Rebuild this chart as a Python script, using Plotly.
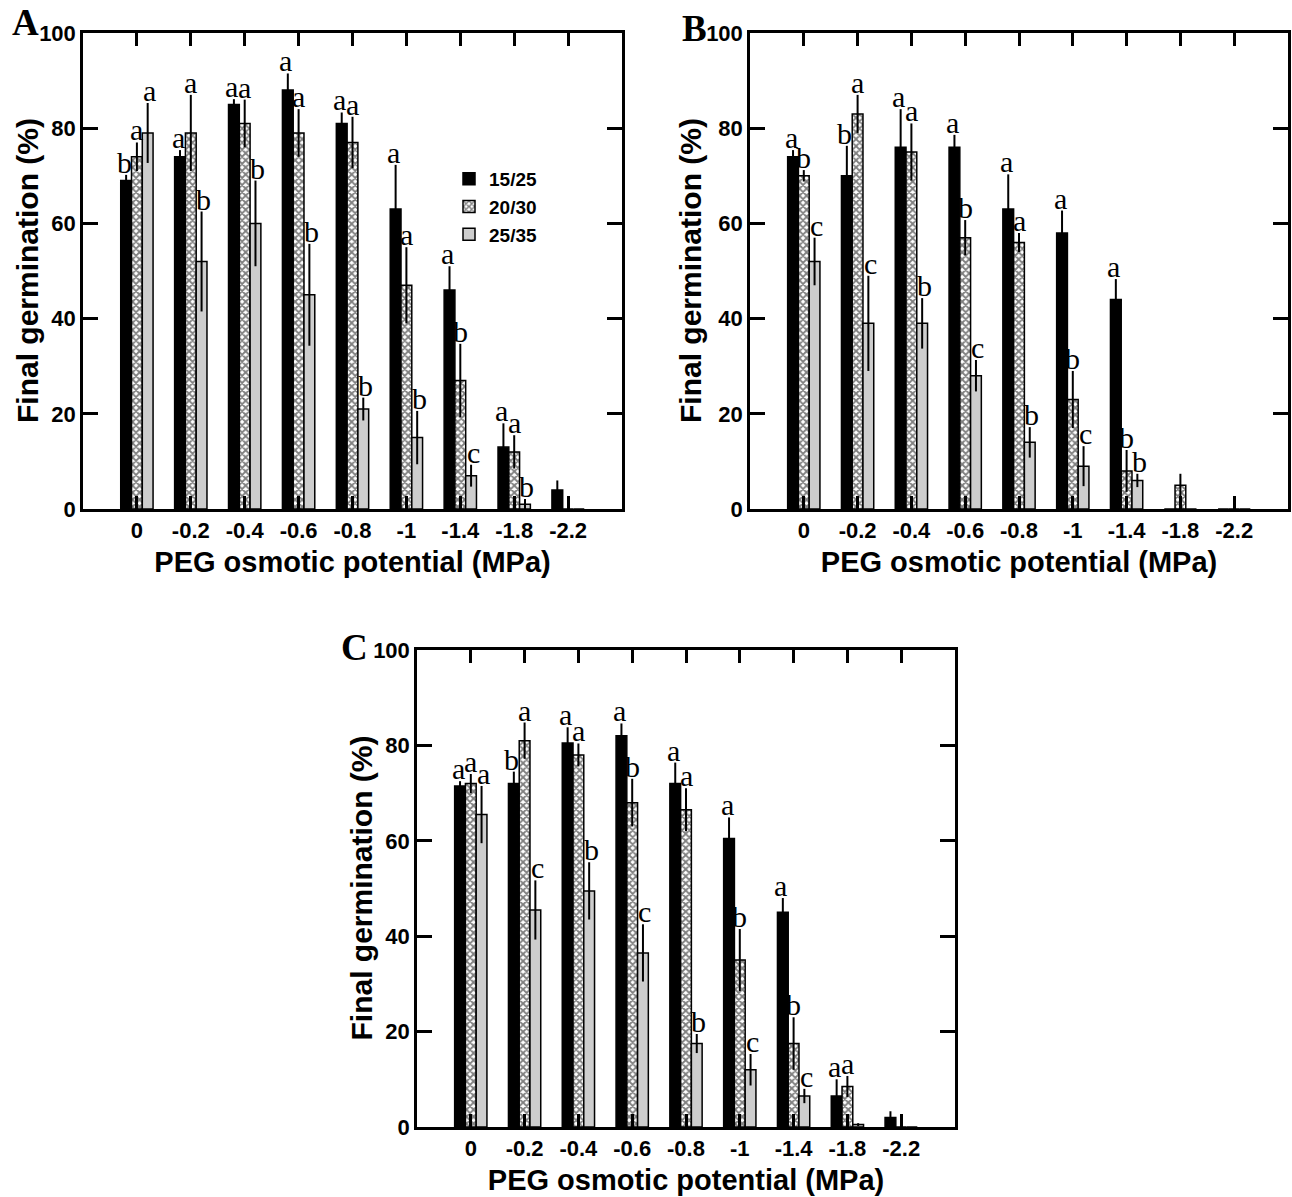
import plotly.graph_objects as go

# PEG osmotic potential levels (MPa)
levels = ["0", "-0.2", "-0.4", "-0.6", "-0.8", "-1", "-1.4", "-1.8", "-2.2"]
regimes = ["15/25", "20/30", "25/35"]

# Panel A: final germination (%), SE and letter groupings
a_1525 = [69, 74, 85, 88, 81, 63, 46, 13, 4]
a_1525_err = [1.2, 1.4, 1.1, 3.5, 2.3, 9.3, 5, 5, 2]
a_2030 = [74, 79, 81, 79, 77, 47, 27, 12, 0]
a_2030_err = [3, 8, 5, 5, 5.4, 8, 7.7, 3.5, 0]
a_2535 = [79, 52, 60, 45, 21, 15, 7, 1, 0]
a_2535_err = [6.3, 10.5, 9, 10.7, 2.4, 5.6, 2.3, 1.1, 0]
a_1525_lab = ["b", "a", "a", "a", "a", "a", "a", "a", ""]
a_2030_lab = ["a", "a", "a", "a", "a", "a", "b", "a", ""]
a_2535_lab = ["a", "b", "b", "b", "b", "b", "c", "b", ""]

# Panel B
b_1525 = [74, 70, 76, 76, 63, 58, 44, 0, 0]
b_1525_err = [1.4, 6.3, 8, 2.6, 7.3, 4.7, 4.3, 0, 0]
b_2030 = [70, 83, 75, 57, 56, 23, 8, 5, 0]
b_2030_err = [1.2, 4, 6, 3.7, 2, 6, 4.4, 2.4, 0]
b_2535 = [52, 39, 39, 28, 14, 9, 6, 0, 0]
b_2535_err = [5, 10, 5.3, 3.3, 3.2, 4.2, 1.4, 0, 0]
b_1525_lab = ["a", "b", "a", "a", "a", "a", "a", "", ""]
b_2030_lab = ["b", "a", "a", "b", "a", "b", "b", "", ""]
b_2535_lab = ["c", "c", "b", "c", "b", "c", "b", "", ""]

# Panel C
c_1525 = [71.5, 72, 80.5, 82, 72, 60.5, 45, 6.5, 2]
c_1525_err = [1, 2.5, 3.3, 2.6, 4.4, 4.4, 3, 3.5, 1.3]
c_2030 = [72, 81, 78, 68, 66.5, 35, 17.5, 8.5, 0]
c_2030_err = [2, 3.8, 2.4, 5, 4.5, 6.5, 5.5, 2.2, 0]
c_2535 = [65.5, 45.5, 49.5, 36.5, 17.5, 12, 6.5, 0.5, 0]
c_2535_err = [6, 6.2, 6, 6, 2, 3.3, 1.5, 0.3, 0]
c_1525_lab = ["a", "b", "a", "a", "a", "a", "a", "a", ""]
c_2030_lab = ["a", "a", "a", "b", "a", "b", "b", "a", ""]
c_2535_lab = ["a", "c", "b", "c", "b", "c", "c", "", ""]

W, H = 1292, 1197
BARGAP = 0.4
SANS = "Liberation Sans, Arial, sans-serif"
SERIF = "Liberation Serif, Times New Roman, serif"


def px_x(p):
    return p / W


def px_y(p):
    return 1 - p / H


panels = [
    # letter, axis suffix, x pixel span, y pixel span, data, letter position, y-title x
    ("A", "", (83, 622), (33, 509),
     [(a_1525, a_1525_err, a_1525_lab), (a_2030, a_2030_err, a_2030_lab), (a_2535, a_2535_err, a_2535_lab)],
     (25, 23), 28),
    ("B", "2", (750, 1288), (33, 509),
     [(b_1525, b_1525_err, b_1525_lab), (b_2030, b_2030_err, b_2030_lab), (b_2535, b_2535_err, b_2535_lab)],
     (694, 28), 691),
    ("C", "3", (417, 955), (650, 1127),
     [(c_1525, c_1525_err, c_1525_lab), (c_2030, c_2030_err, c_2030_lab), (c_2535, c_2535_err, c_2535_lab)],
     (354, 647), 361),
]


def marker_for(k):
    line = dict(color="black", width=1.5)
    if k == 0:
        return dict(color="black", line=line)
    if k == 1:
        return dict(color="white", line=line,
                    pattern=dict(shape="x", fgcolor="black", bgcolor="white", size=5, solidity=0.6))
    return dict(color="#cdcdcd", line=line)


fig = go.Figure()
annotations = []
x_idx = list(range(len(levels)))
bw = (1 - BARGAP) / 3
offsets = [-bw, 0, bw]
xshift = [-2, 0, 2]

for letter, sfx, (x0, x1), (y0, y1), series, (lx, ly), tx in panels:
    xa, ya = "x" + sfx, "y" + sfx
    for k, (vals, errs, labs) in enumerate(series):
        fig.add_trace(go.Bar(
            x=x_idx, y=vals, name=regimes[k], xaxis=xa, yaxis=ya,
            marker=marker_for(k), legendgroup=regimes[k], showlegend=(letter == "A"),
            error_y=dict(type="data", array=errs, visible=True, color="black", thickness=2, width=0),
        ))
        for i, (v, e, t) in enumerate(zip(vals, errs, labs)):
            if not t:
                continue
            annotations.append(dict(
                x=i + offsets[k], y=v + e, xref=xa, yref=ya, text=t, showarrow=False,
                xanchor="center", yanchor="bottom", yshift=-6, xshift=xshift[k],
                font=dict(family=SERIF, size=30, color="black"),
            ))
    # panel letter
    annotations.append(dict(
        x=px_x(lx), y=px_y(ly), xref="paper", yref="paper", text="<b>%s</b>" % letter,
        showarrow=False, xanchor="center", yanchor="middle",
        font=dict(family=SERIF, size=37, color="black"),
    ))
    # y-axis title, set close to the tick labels
    annotations.append(dict(
        x=px_x(tx), y=px_y((y0 + y1) / 2), xref="paper", yref="paper",
        text="Final germination (%)", textangle=-90, showarrow=False,
        xanchor="center", yanchor="middle",
        font=dict(family=SANS, size=30, color="black", weight="bold"),
    ))
    xkey = "xaxis" + sfx
    ykey = "yaxis" + sfx
    fig.update_layout({
        xkey: dict(
            domain=[px_x(x0), px_x(x1)], anchor=ya, range=[-1, 9],
            tickmode="array", tickvals=x_idx, ticktext=levels,
            ticks="inside", ticklen=13, tickwidth=2.5, tickcolor="black",
            showline=True, linewidth=2.5, linecolor="black", mirror="ticks",
            showgrid=False, zeroline=False, automargin=False,
            tickfont=dict(family=SANS, size=22, color="black", weight="bold"),
            title=dict(text="PEG osmotic potential (MPa)", standoff=10,
                       font=dict(family=SANS, size=29, color="black", weight="bold")),
        ),
        ykey: dict(
            domain=[px_y(y1), px_y(y0)], anchor=xa, range=[0, 100],
            tickmode="array", tickvals=[0, 20, 40, 60, 80, 100],
            ticks="inside", ticklen=15, tickwidth=2.5, tickcolor="black",
            showline=True, linewidth=2.5, linecolor="black", mirror="ticks",
            showgrid=False, zeroline=False, automargin=False,
            tickfont=dict(family=SANS, size=22, color="black", weight="bold"),
        ),
    })

fig.update_layout(
    width=W, height=H,
    margin=dict(l=0, r=0, t=0, b=0),
    paper_bgcolor="white", plot_bgcolor="white",
    barmode="group", bargap=BARGAP, bargroupgap=0,
    annotations=annotations,
    legend=dict(
        x=px_x(449), y=px_y(160), xanchor="left", yanchor="top",
        bgcolor="rgba(0,0,0,0)", tracegroupgap=0,
        font=dict(family=SANS, size=19, color="black", weight="bold"),
    ),
)

fig.write_html("out.html")
